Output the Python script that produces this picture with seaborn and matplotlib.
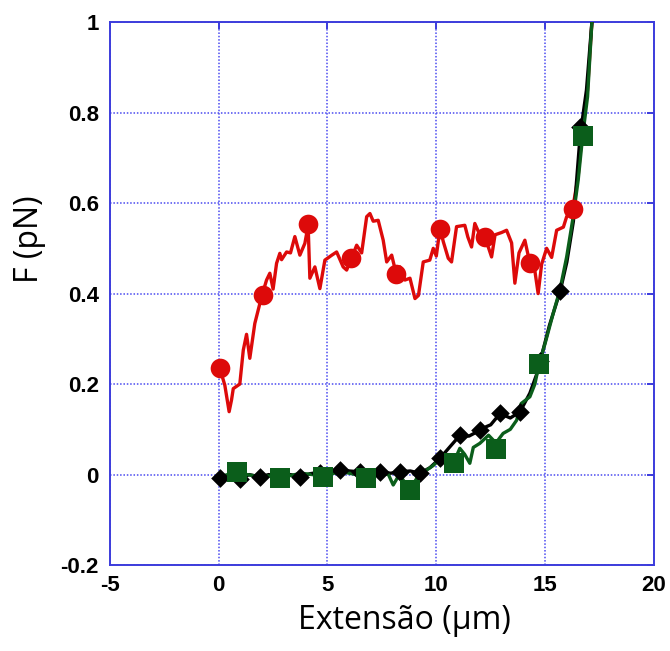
import numpy as np
import pandas as pd
import matplotlib
matplotlib.use("Agg")
import matplotlib.pyplot as plt
import seaborn as sns

# --- red curve (trace + markers) ---
red_x = [0.05, 0.28, 0.48, 0.59, 0.67, 0.97, 1.13, 1.28, 1.43, 1.66, 1.97, 2.20, 2.35,
         2.50, 2.66, 2.81, 2.89, 3.12, 3.30, 3.50, 3.73, 3.96, 4.11, 4.19, 4.42, 4.65,
         4.88, 5.20, 5.42, 5.72, 5.88, 6.10, 6.34, 6.57, 6.80, 6.95, 7.10, 7.33, 7.56,
         7.72, 7.95, 8.17, 8.33, 8.56, 8.79, 9.02, 9.18, 9.40, 9.70, 9.86, 10.00, 10.17,
         10.32, 10.55, 10.70, 10.93, 11.31, 11.45, 11.62, 11.77, 12.00, 12.23, 12.54,
         12.70, 13.00, 13.23, 13.46, 13.61, 13.80, 14.07, 14.30, 14.50, 14.68, 14.84,
         15.07, 15.30, 15.53, 15.84, 15.99, 16.26, 16.52, 16.75, 16.95, 17.15]
red_y = [0.235, 0.198, 0.139, 0.165, 0.19, 0.20, 0.275, 0.31, 0.257, 0.334, 0.393, 0.43,
         0.445, 0.41, 0.467, 0.489, 0.475, 0.492, 0.49, 0.526, 0.485, 0.511, 0.551, 0.434,
         0.459, 0.411, 0.474, 0.485, 0.492, 0.459, 0.452, 0.478, 0.507, 0.49, 0.57, 0.577,
         0.56, 0.562, 0.518, 0.47, 0.485, 0.441, 0.459, 0.43, 0.434, 0.389, 0.396, 0.47,
         0.474, 0.50, 0.483, 0.544, 0.515, 0.478, 0.47, 0.548, 0.551, 0.525, 0.503, 0.555,
         0.53, 0.526, 0.481, 0.53, 0.535, 0.54, 0.512, 0.423, 0.49, 0.518, 0.467, 0.46,
         0.40, 0.465, 0.50, 0.48, 0.54, 0.547, 0.57, 0.586, 0.66, 0.78, 0.85, 1.0]
red_mx = [0.05, 2.05, 4.11, 6.10, 8.17, 10.17, 12.23, 14.30, 16.26]
red_my = [0.235, 0.398, 0.553, 0.478, 0.443, 0.543, 0.525, 0.468, 0.588]

# --- black curve (trace + diamonds) ---
blk_x = [0.05, 0.5, 0.97, 1.4, 1.89, 2.3, 2.81, 3.3, 3.73, 4.2, 4.65, 5.1, 5.57, 6.0,
         6.49, 6.9, 7.41, 7.9, 8.33, 8.8, 9.25, 9.7, 10.17, 10.6, 11.09, 11.5, 12.01,
         12.3, 12.5, 12.93, 13.4, 13.85, 14.3, 14.6, 14.77, 15.2, 15.69, 16.0, 16.3,
         16.61, 16.9, 17.15]
blk_y = [-0.008, -0.005, -0.01, 0.0, -0.005, 0.0, -0.006, 0.0, -0.005, 0.002, 0.005,
         0.008, 0.011, 0.008, 0.006, 0.004, 0.006, 0.003, 0.006, 0.008, 0.003, 0.015,
         0.036, 0.06, 0.087, 0.085, 0.098, 0.106, 0.11, 0.135, 0.125, 0.139, 0.18, 0.22,
         0.25, 0.33, 0.405, 0.47, 0.56, 0.75, 0.85, 1.0]
blk_mx = [0.05, 0.97, 1.89, 2.81, 3.73, 4.65, 5.57, 6.49, 7.41, 8.33, 9.25, 10.17,
          11.09, 12.01, 12.93, 13.85, 14.77, 15.69, 16.61]
blk_my = [-0.008, -0.01, -0.005, -0.006, -0.005, 0.004, 0.011, 0.006, 0.006, 0.006,
          0.003, 0.036, 0.087, 0.098, 0.135, 0.139, 0.25, 0.405, 0.768]

# --- green curve (trace + squares) ---
grn_x = [0.05, 0.84, 1.3, 1.9, 2.3, 2.86, 3.3, 3.8, 4.3, 4.79, 5.3, 5.8, 6.3, 6.81,
         7.3, 7.8, 8.02, 8.3, 8.79, 9.2, 9.55, 9.86, 10.17, 10.5, 10.81, 11.08, 11.3,
         11.54, 11.7, 12.0, 12.4, 12.74, 13.07, 13.4, 13.69, 13.9, 14.3, 14.53, 14.73,
         15.0, 15.37, 15.68, 15.99, 16.29, 16.52, 16.73, 16.95, 17.15]
grn_y = [-0.005, 0.006, 0.0, -0.005, -0.003, -0.008, -0.002, 0.003, 0.0, -0.004, 0.003,
         0.005, 0.0, -0.006, 0.004, 0.0, -0.023, 0.0, -0.034, 0.0, 0.01, 0.02, 0.035,
         0.03, 0.028, 0.058, 0.045, 0.025, 0.06, 0.069, 0.087, 0.07, 0.091, 0.1, 0.12,
         0.157, 0.172, 0.2, 0.246, 0.29, 0.356, 0.408, 0.481, 0.57, 0.651, 0.75, 0.835, 1.0]
grn_mx = [0.84, 2.84, 4.79, 6.79, 8.79, 10.80, 12.74, 14.73, 16.73]
grn_my = [0.005, -0.008, -0.005, -0.007, -0.034, 0.026, 0.056, 0.245, 0.748]

x_ticks = [-5, 0, 5, 10, 15, 20]
y_ticks = [-0.2, 0, 0.2, 0.4, 0.6, 0.8, 1]
y_tick_labels = ["-0.2", "0", "0.2", "0.4", "0.6", "0.8", "1"]

RED = "#dd0a0a"
BLACK = "#000000"
GREEN = "#0b5e1b"
FRAME = "#3c3cdc"

sns.set_style("white")
plt.rcParams["font.family"] = ["Liberation Sans", "DejaVu Sans"]
plt.rcParams["text.color"] = "black"
plt.rcParams["axes.labelcolor"] = "black"

fig = plt.figure(figsize=(6.70, 6.51), dpi=100)
ax = fig.add_axes([0.164, 0.132, 0.812, 0.834])

series = [
    (red_x, red_y, RED),
    (blk_x, blk_y, BLACK),
    (grn_x, grn_y, GREEN),
]
for xs, ys, col in series:
    df = pd.DataFrame({"x": xs, "y": ys})
    sns.lineplot(data=df, x="x", y="y", ax=ax, color=col, lw=2.4,
                 sort=False, estimator=None, zorder=3)

marks = [
    (blk_mx, blk_my, BLACK, "D", 90),
    (grn_mx, grn_my, GREEN, "s", 200),
    (red_mx, red_my, RED, "o", 200),
]
for xs, ys, col, mk, sz in marks:
    df = pd.DataFrame({"x": xs, "y": ys})
    sns.scatterplot(data=df, x="x", y="y", ax=ax, color=col, marker=mk, s=sz,
                    linewidth=0, zorder=4, clip_on=True)

ax.set_xlim(-5, 20)
ax.set_ylim(-0.2, 1.0)
ax.set_xticks(x_ticks)
ax.set_xticklabels([str(t) for t in x_ticks])
ax.set_yticks(y_ticks)
ax.set_yticklabels(y_tick_labels)

ax.grid(True, color="#4a4af0", linestyle=(0, (1, 1.2)), linewidth=1.1)
ax.set_axisbelow(True)
for sp in ax.spines.values():
    sp.set_color(FRAME)
    sp.set_linewidth(1.4)
ax.tick_params(axis="both", direction="in", length=5, width=1.4, color=FRAME,
               top=True, right=True, labelsize=16, labelcolor="black")
ax.tick_params(axis="y", pad=8)
ax.tick_params(axis="x", pad=7)
for lab in ax.get_xticklabels() + ax.get_yticklabels():
    lab.set_fontweight("bold")

label_font = ["Open Sans", "DejaVu Sans"]
ax.set_xlabel("Extensão (µm)", fontsize=23, family=label_font, color="black")
ax.set_ylabel("F (pN)", fontsize=23, family=label_font, color="black")
ax.xaxis.set_label_coords(0.542, -0.072)
ax.yaxis.set_label_coords(-0.118, 0.60)

fig.savefig("out.png", dpi=100, facecolor="white")
